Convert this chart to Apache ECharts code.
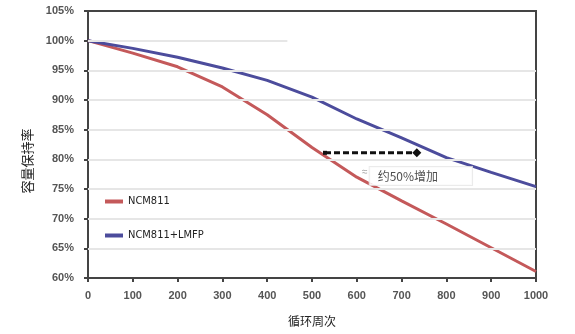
<!DOCTYPE html>
<html><head><meta charset="utf-8">
<script src="https://cdn.jsdelivr.net/npm/echarts@6/dist/echarts.min.js"></script>
<style>html,body{margin:0;padding:0;background:#fff}#c{width:575px;height:334px}</style>
</head><body><div id="c"></div>
<script>
const cycles = [0,100,200,300,400,500,600,700,800,900,1000];
const ncm811 = [100,97.9,95.6,92.2,87.5,82.0,77.0,73.0,69.1,65.1,61.1];
const ncmLmfp = [100,98.7,97.2,95.4,93.3,90.5,86.8,83.6,80.3,77.8,75.4];
const seriesNames = ['NCM811','NCM811+LMFP'];
const fullGrid = [65,70,75,80,85,90,95];
const partialGrid = {y:100, x0:0, x1:445};
const arrow = {x0:529, x1:734, y:81.1};
const noteText = '约50%增加';
const notePos = [743, 77.2];
const approxPos = [618, 77.9];

const chart = echarts.init(document.getElementById('c'));
const gridStyle = {color:'#e6e6e6', width:2, type:'solid'};
const gridLines = fullGrid.map(v => ({yAxis:v}));
gridLines.push([{coord:[partialGrid.x0, partialGrid.y]},{coord:[partialGrid.x1, partialGrid.y]}]);
const zip = arr => cycles.map((c,i)=>[c,arr[i]]);
chart.setOption({
  animation:false,
  grid:{left:88,right:39,top:11,bottom:56,show:true,borderColor:'#444',borderWidth:2,backgroundColor:'#fff'},
  legend:{
    orient:'vertical', left:100, top:191, itemGap:23,
    icon:'rect', itemWidth:18, itemHeight:4,
    textStyle:{fontFamily:'"DejaVu Sans Condensed", "Liberation Sans"', fontSize:11, color:'#222'},
    data:seriesNames
  },
  xAxis:{
    type:'value', min:0, max:1000, interval:100,
    name:'循环周次', nameLocation:'middle', nameGap:37,
    nameTextStyle:{fontFamily:'Noto Sans CJK SC', fontSize:12, color:'#222'},
    axisLine:{lineStyle:{color:'#444',width:2}},
    axisTick:{show:true,length:4,lineStyle:{color:'#444',width:2}},
    axisLabel:{margin:12,formatter:v=>String(v),fontFamily:'Liberation Sans',fontWeight:'bold',fontSize:11,color:'#555'},
    splitLine:{show:false}
  },
  yAxis:{
    type:'value', min:60, max:105, interval:5,
    axisLine:{show:true,lineStyle:{color:'#444',width:2}},
    axisTick:{show:true,length:4,lineStyle:{color:'#444',width:2}},
    axisLabel:{margin:14,formatter:'{value}%',fontFamily:'Liberation Sans',fontWeight:'bold',fontSize:11,color:'#555'},
    splitLine:{show:false}
  },
  graphic:[{
    type:'text', x:27, y:161, rotation:Math.PI/2,
    style:{text:'容量保持率', fontFamily:'Noto Sans CJK SC', fontSize:13, fill:'#222', align:'center', verticalAlign:'middle'}
  }],
  series:[
    {type:'line', name:'__grid', data:[], silent:true, z:1,
     markLine:{silent:true, symbol:['none','none'], label:{show:false}, lineStyle:gridStyle, data:gridLines}},
    {type:'line', name:seriesNames[0], data:zip(ncm811), showSymbol:false, symbol:'none',
     lineStyle:{color:'#c4595a',width:3}, itemStyle:{color:'#c4595a'}, z:3},
    {type:'line', name:seriesNames[1], data:zip(ncmLmfp), showSymbol:false, symbol:'none',
     lineStyle:{color:'#4c4c9c',width:3}, itemStyle:{color:'#4c4c9c'}, z:4},
    {type:'line', name:'__arrow', z:5, silent:true,
     data:[{value:[arrow.x0,arrow.y],symbol:'rect',symbolSize:[4,4]},{value:[arrow.x1,arrow.y],symbol:'diamond',symbolSize:9}],
     lineStyle:{color:'#111',width:3,type:[6,3]}, itemStyle:{color:'#111'}, showSymbol:true},
    {type:'scatter', name:'__note', z:6, silent:true, symbolSize:0,
     data:[{value:notePos, label:{show:true, position:'inside', formatter:noteText,
       fontFamily:'Noto Sans CJK SC', fontSize:12, color:'#222',
       backgroundColor:'#fff', borderColor:'#e6e6e6', borderWidth:1, padding:[3,34,3,8]}}]},
    {type:'scatter', name:'__approx', z:7, silent:true, symbolSize:0,
     data:[{value:approxPos, label:{show:true, position:'inside', formatter:'≈', fontSize:10, color:'#888'}}]}
  ]
});
</script></body></html>
